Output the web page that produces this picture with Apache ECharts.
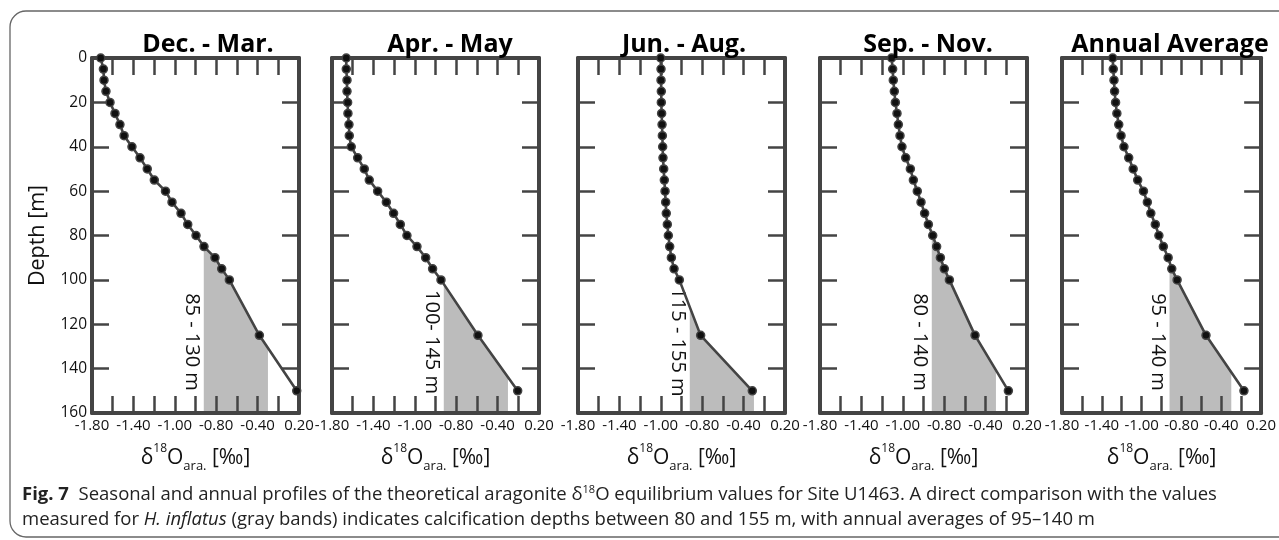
<!DOCTYPE html>
<html>
<head>
<meta charset="utf-8">
<script src="https://cdn.jsdelivr.net/npm/echarts@6/dist/echarts.min.js"></script>
<style>
html,body{margin:0;padding:0;background:#fff;}
#chart{width:1279px;height:540px;}
</style>
</head>
<body>
<div id="chart"></div>
<script>
// ---------------- data ----------------
const depths = [0,5,10,15,20,25,30,35,40,45,50,55,60,65,70,75,80,85,90,95,100,125,150];

const decMar = [-1.716,-1.690,-1.684,-1.665,-1.626,-1.578,-1.530,-1.490,-1.414,-1.336,-1.266,-1.198,-1.090,-1.027,-0.940,-0.875,-0.795,-0.718,-0.612,-0.547,-0.473,-0.183,0.178];
const aprMay = [-1.662,-1.662,-1.655,-1.655,-1.649,-1.646,-1.636,-1.633,-1.614,-1.552,-1.488,-1.440,-1.359,-1.275,-1.205,-1.140,-1.076,-0.979,-0.895,-0.828,-0.747,-0.390,-0.006];
const junAug = [-1.001,-0.998,-0.998,-0.995,-0.995,-0.992,-0.988,-0.985,-0.982,-0.979,-0.972,-0.966,-0.959,-0.953,-0.947,-0.937,-0.927,-0.914,-0.898,-0.872,-0.821,-0.615,-0.116];
const sepNov = [-1.108,-1.098,-1.092,-1.082,-1.072,-1.056,-1.043,-1.027,-1.008,-0.972,-0.927,-0.898,-0.860,-0.824,-0.789,-0.753,-0.711,-0.673,-0.637,-0.599,-0.550,-0.302,0.020];
const annual = [-1.291,-1.285,-1.278,-1.272,-1.262,-1.249,-1.230,-1.207,-1.178,-1.130,-1.085,-1.040,-0.982,-0.943,-0.908,-0.863,-0.827,-0.782,-0.734,-0.698,-0.644,-0.354,0.027];

const panelTitles = ['Dec. - Mar.', 'Apr. - May', 'Jun. - Aug.', 'Sep. - Nov.', 'Annual Average'];
const panelSeries = [decMar, aprMay, junAug, sepNov, annual];
const bandLabels = ['85 - 130 m', '100- 145 m', '115 - 155 m', '80 - 140 m', '95 - 140 m'];
// measured H. inflatus δ18O range (gray band)
const bandRange = [-0.72, -0.10];

const xTickLabels = ['-1.80', '-1.40', '-1.00', '-0.80', '-0.40', '0.20'];
const yTickLabels = ['0', '20', '40', '60', '80', '100', '120', '140', '160'];

const captionLine1 = '{b|Fig. 7}  Seasonal and annual profiles of the theoretical aragonite δ{s|18}O equilibrium values for Site U1463. A direct comparison with the values';
const captionLine2 = 'measured for {i|H. inflatus} (gray bands) indicates calcification depths between 80 and 155 m, with annual averages of 95–140 m';

// ---------------- layout / style ----------------
const FONT = "'Open Sans', 'Noto Sans', sans-serif";
const AX = '#444444';
const gridLefts = [92, 332, 578, 820, 1062];
const titleCenters = [203, 445, 679, 923, 1165];
const GW = 207, GT = 58, GH = 355;
const X_MIN = -1.8, X_MAX = 0.2, X_INT = 0.2;
const Y_MIN = 0, Y_MAX = 160, Y_INT = 20;
const LABEL_DEPTH = 128;
const CAP = 18.5;

function interpCross(xs, xv) {
  for (let k = 0; k < xs.length - 1; k++) {
    if (xs[k] < xv && xs[k + 1] >= xv) {
      const t = (xv - xs[k]) / (xs[k + 1] - xs[k]);
      return depths[k] + t * (depths[k + 1] - depths[k]);
    }
  }
  return null;
}

const grids = [], xAxes = [], yAxes = [], series = [], titles = [];

panelSeries.forEach((xs, i) => {
  grids.push({left: gridLefts[i], top: GT, width: GW, height: GH});
  titles.push({
    text: panelTitles[i], left: titleCenters[i], top: 27, textAlign: 'center',
    textStyle: {fontFamily: FONT, fontSize: 25, fontWeight: 'bold', color: '#000'}
  });
  const axLine = {show: true, onZero: false, lineStyle: {color: AX, width: 4}};
  const axTick = {show: true, inside: true, length: 17, lineStyle: {color: AX, width: 2.5}};
  const baseX = {
    type: 'value', gridIndex: i, min: X_MIN, max: X_MAX, interval: X_INT,
    axisLine: axLine, axisTick: axTick, splitLine: {show: false}, z: 1
  };
  xAxes.push(Object.assign({}, baseX, {
    position: 'bottom',
    axisLabel: {
      show: true, margin: 5, fontFamily: FONT, fontSize: 15, color: '#111',
      formatter: function (v) {
        const k = Math.round((v - X_MIN) / X_INT);
        return k % 2 === 0 ? xTickLabels[k / 2] : '';
      }
    },
    name: '{d|δ}{s|18}{d|O}{b|ara.}{d| [‰]}',
    nameLocation: 'middle', nameGap: 30,
    nameTextStyle: {
      rich: {
        d: {fontFamily: FONT, fontSize: 21, color: '#111', lineHeight: 30, verticalAlign: 'middle'},
        s: {fontFamily: FONT, fontSize: 12, color: '#111', lineHeight: 22, verticalAlign: 'top'},
        b: {fontFamily: FONT, fontSize: 13, color: '#111', lineHeight: 10, verticalAlign: 'bottom'}
      }
    }
  }));
  xAxes.push(Object.assign({}, baseX, {position: 'top', axisLabel: {show: false}}));
  const baseY = {
    type: 'value', gridIndex: i, min: Y_MIN, max: Y_MAX, interval: Y_INT, inverse: true,
    axisLine: axLine, axisTick: axTick, splitLine: {show: false}, z: 1
  };
  yAxes.push(Object.assign({}, baseY, {
    position: 'left',
    axisLabel: {
      show: i === 0, margin: 5, fontFamily: FONT, fontSize: 15.5, color: '#111',
      formatter: function (v) { return yTickLabels[Math.round((v - Y_MIN) / Y_INT)]; }
    },
    name: i === 0 ? 'Depth [m]' : '',
    nameLocation: 'middle', nameGap: 43,
    nameTextStyle: {fontFamily: FONT, fontSize: 21.5, color: '#111'}
  }));
  yAxes.push(Object.assign({}, baseY, {position: 'right', axisLabel: {show: false}}));

  // gray band (area under the profile between the measured δ18O range)
  series.push({
    type: 'custom', coordinateSystem: 'cartesian2d',
    xAxisIndex: 2 * i, yAxisIndex: 2 * i, z: 0, silent: true,
    data: [[bandRange[0], LABEL_DEPTH]],
    renderItem: function (params, api) {
      const dL = interpCross(xs, bandRange[0]);
      const dR = interpCross(xs, bandRange[1]);
      const last = xs.length - 1;
      const poly = [api.coord([bandRange[0], dL])];
      xs.forEach((x, k) => {
        if (x > bandRange[0] && x < bandRange[1] && depths[k] > dL && (dR === null || depths[k] < dR)) {
          poly.push(api.coord([x, depths[k]]));
        }
      });
      if (dR !== null) {
        poly.push(api.coord([bandRange[1], dR]));
      } else {
        poly.push(api.coord([bandRange[1], depths[last]]));
      }
      poly.push(api.coord([bandRange[1], Y_MAX]));
      poly.push(api.coord([bandRange[0], Y_MAX]));
      const anchor = api.coord([bandRange[0], LABEL_DEPTH]);
      return {
        type: 'group',
        children: [
          {type: 'polygon', shape: {points: poly}, style: {fill: '#bcbcbc', stroke: null}},
          {type: 'text', x: anchor[0] - 2, y: anchor[1], rotation: -Math.PI / 2,
           style: {text: bandLabels[i], align: 'center', verticalAlign: 'top',
                   fontFamily: FONT, fontSize: 20, fill: '#111'}}
        ]
      };
    }
  });

  series.push({
    type: 'line', xAxisIndex: 2 * i, yAxisIndex: 2 * i, z: 3,
    data: depths.map((d, k) => [xs[k], d]),
    lineStyle: {color: AX, width: 2.6},
    symbol: 'circle', symbolSize: 8,
    itemStyle: {color: '#111', borderColor: '#444', borderWidth: 1.5},
    animation: false
  });
});

const option = {
  animation: false,
  backgroundColor: '#ffffff',
  title: titles,
  grid: grids,
  xAxis: xAxes,
  yAxis: yAxes,
  series: series,
  graphic: [
    {type: 'rect', shape: {x: 10, y: 11, width: 1320, height: 526, r: 16},
     style: {fill: 'none', stroke: '#666', lineWidth: 1.3}, silent: true},
    {type: 'text', left: 22, top: 484,
     style: {text: captionLine1, fontFamily: FONT, fontSize: CAP, fill: '#222', lineHeight: 22,
             rich: {b: {fontFamily: FONT, fontSize: CAP, fontWeight: 'bold', fill: '#222', lineHeight: 22},
                    s: {fontFamily: FONT, fontSize: 11, fill: '#222', lineHeight: 22, verticalAlign: 'top'}}}},
    {type: 'text', left: 22, top: 509,
     style: {text: captionLine2, fontFamily: FONT, fontSize: CAP, fill: '#222', lineHeight: 22,
             rich: {i: {fontFamily: FONT, fontSize: CAP, fontStyle: 'italic', fill: '#222', lineHeight: 22}}}}
  ]
};

const chart = echarts.init(document.getElementById('chart'), null, {renderer: 'canvas'});
chart.setOption(option);
</script>
</body>
</html>
